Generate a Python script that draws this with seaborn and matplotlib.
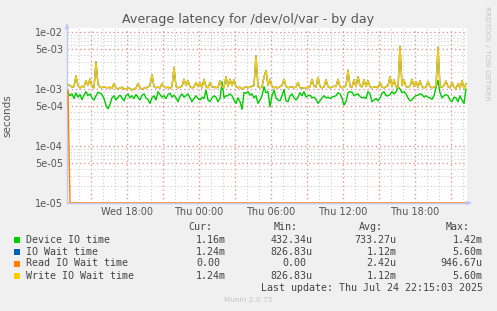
import numpy as np
import pandas as pd
import matplotlib
matplotlib.use("Agg")
import matplotlib.pyplot as plt
import matplotlib.dates as mdates
import matplotlib.ticker as mticker
from matplotlib.patches import Rectangle
import seaborn as sns

# ---------------- data (values in microseconds, 10-minute samples) ----------------
start_time = "2025-07-23 13:05"
n_points = 200

device_us = [
    880, 760, 820, 680, 850, 720, 800, 650, 780, 900,
    760, 820, 700, 640, 760, 880, 850, 800, 680, 520,
    450, 540, 700, 760, 640, 720, 780, 700, 620, 760,
    820, 700, 760, 680, 800, 720, 640, 780, 820, 700,
    650, 560, 700, 760, 640, 900, 800, 720, 760, 680,
    800, 840, 720, 780, 700, 600, 740, 820, 720, 760,
    820, 700, 600, 680, 760, 680, 640, 720, 680, 950,
    640, 600, 700, 760, 720, 600, 680, 1350, 700, 760,
    760, 820, 760, 640, 560, 700, 600, 440, 870, 840,
    900, 780, 820, 700, 760, 560, 640, 760, 1100, 860,
    900, 490, 760, 960, 700, 640, 620, 760, 980, 620,
    600, 760, 820, 700, 640, 720, 860, 760, 900, 720,
    760, 780, 700, 720, 660, 560, 620, 700, 760, 700,
    720, 680, 720, 740, 760, 860, 820, 700, 520, 600,
    860, 900, 880, 760, 800, 820, 740, 700, 720, 680,
    900, 820, 600, 640, 680, 620, 700, 840, 900, 760,
    760, 800, 900, 820, 880, 1100, 1000, 860, 900, 820,
    700, 620, 640, 720, 760, 780, 820, 800, 720, 760,
    720, 700, 660, 760, 1050, 1420, 860, 700, 760, 800,
    760, 640, 600, 720, 700, 600, 760, 640, 560, 1000,
]

write_us = [
    1200, 1150, 1080, 1100, 1700, 1150, 1050, 1120, 1080, 1400,
    1150, 1500, 1100, 1050, 3000, 1200, 1080, 1050, 1100, 1060,
    1050, 1080, 1020, 1250, 1050, 1000, 1040, 1080, 1000, 980,
    1050, 1020, 960, 1000, 1040, 1250, 1050, 1000, 1030, 1060,
    1080, 1150, 1780, 1100, 1050, 1080, 1040, 1250, 1100, 1050,
    1080, 1020, 1100, 2400, 1100, 1050, 1080, 1120, 1480, 1150,
    1400, 1100, 1050, 1080, 1300, 1100, 1300, 1050, 1480, 1100,
    1050, 1300, 1080, 1100, 1050, 1080, 1400, 1100, 1050, 1640,
    1100, 1480, 1150, 1450, 1100, 1050, 1080, 1000, 1050, 1100,
    1050, 1080, 1120, 1150, 3800, 1100, 1050, 1080, 1640, 2100,
    1150, 1480, 1100, 1050, 1080, 1040, 1100, 1150, 1480, 1100,
    1050, 1080, 1100, 1050, 1080, 1300, 1050, 1040, 1050, 1060,
    1050, 1100, 1480, 1120, 1080, 1600, 1100, 1050, 1080, 1450,
    1100, 1050, 1080, 1120, 1100, 1480, 1100, 1050, 1080, 1150,
    2150, 1100, 1080, 1450, 1100, 1640, 1150, 1080, 1450, 1100,
    1400, 1100, 1050, 1080, 1100, 1050, 1300, 1080, 1050, 1100,
    1150, 1640, 1100, 1450, 1100, 1050, 5600, 1150, 1450, 1100,
    1080, 1120, 1480, 1100, 1350, 1080, 1400, 1100, 1050, 1080,
    1350, 1100, 1050, 1080, 1100, 5400, 1100, 1080, 1150, 1380,
    1100, 1050, 1300, 1080, 1000, 1250, 1050, 1400, 1000, 1250,
]

# IO Wait time is identical to Write IO Wait time in this graph
iowait_us = list(write_us)
read_us = [946.67] + [0.0] * (n_points - 1)

series_names = ["Device IO time", "IO Wait time", "Read IO Wait time", "Write IO Wait time"]
series_colors = ["#00CC00", "#0066B3", "#FF8000", "#FFCC00"]

legend_cur = ["1.16m", "1.24m", "0.00", "1.24m"]
legend_min = ["432.34u", "826.83u", "0.00", "826.83u"]
legend_avg = ["733.27u", "1.12m", "2.42u", "1.12m"]
legend_max = ["1.42m", "5.60m", "946.67u", "5.60m"]

y_ticks = [1e-5, 5e-5, 1e-4, 5e-4, 1e-3, 5e-3, 1e-2]
y_min, y_max = 1e-5, 1.175e-2
x_start, x_end = "2025-07-23 13:00", "2025-07-24 22:20"

# ---------------- build frame ----------------
times = pd.date_range(start_time, periods=n_points, freq="10min")
frames = []
for name, vals in zip(series_names, [device_us, iowait_us, read_us, write_us]):
    v = np.asarray(vals, dtype=float) * 1e-6
    v = np.clip(v, y_min, None)  # rrdtool shows zero at the bottom of a log axis
    frames.append(pd.DataFrame({"time": times, "value": v, "series": name}))
df = pd.concat(frames, ignore_index=True)

# ---------------- figure ----------------
sns.set_style("white")
plt.rcParams["font.family"] = ["DejaVu Sans"]

W, H = 497, 311
fig = plt.figure(figsize=(W / 100, H / 100), dpi=100, facecolor="#F0F0F0")
ax = fig.add_axes([67 / W, (H - 203) / H, 400 / W, 175 / H])
ax.set_facecolor("white")

sns.lineplot(data=df, x="time", y="value", hue="series", hue_order=series_names,
             palette=series_colors, linewidth=1.0, legend=False, ax=ax,
             estimator=None, sort=False, zorder=3)

ax.set_yscale("log")
ax.set_ylim(y_min, y_max)
ax.set_xlim(pd.Timestamp(x_start), pd.Timestamp(x_end))

ax.yaxis.set_major_locator(mticker.FixedLocator(y_ticks))
ax.yaxis.set_major_formatter(mticker.FuncFormatter(lambda v, p: "%.0e" % v))
ax.yaxis.set_minor_locator(mticker.LogLocator(base=10, subs=[2, 3, 4, 6, 7, 8, 9], numticks=20))
ax.yaxis.set_minor_formatter(mticker.NullFormatter())

ax.xaxis.set_major_locator(mdates.HourLocator(byhour=range(0, 24, 3)))
ax.xaxis.set_minor_locator(mdates.HourLocator(interval=1))

def xfmt(v, p):
    d = mdates.num2date(v)
    return d.strftime("%a %H:%M") if d.hour % 6 == 0 else ""

ax.xaxis.set_major_formatter(mticker.FuncFormatter(xfmt))

ax.grid(which="major", color="#E59595", linestyle=(0, (1, 2)), linewidth=1.0)
ax.grid(which="minor", color="#CDCDCD", linestyle=(0, (1, 2)), linewidth=0.8)
ax.set_axisbelow(True)

ax.tick_params(axis="both", which="both", length=0, labelsize=7, colors="#555555", pad=3)
ax.set_xlabel("")
ax.set_ylabel("seconds", fontsize=7.5, color="#555555", labelpad=8)
ax.yaxis.set_label_coords(-55 / 400, 0.5)

for s in ["top", "right"]:
    ax.spines[s].set_visible(False)
ax.spines["left"].set_color("#C0C8F8")
ax.spines["bottom"].set_color("#C0C8F8")
ax.spines["left"].set_linewidth(1)
ax.spines["bottom"].set_linewidth(1)

# axis arrows
ax.annotate("", xy=(0, 1.04), xytext=(0, 1.0), xycoords="axes fraction",
            arrowprops=dict(arrowstyle="-|>", color="#C0C8F8", lw=1, mutation_scale=6),
            annotation_clip=False)
ax.annotate("", xy=(1.012, 0), xytext=(1.0, 0), xycoords="axes fraction",
            arrowprops=dict(arrowstyle="-|>", color="#C0C8F8", lw=1, mutation_scale=6),
            annotation_clip=False)

# title & side text
def fx(x):
    return x / W

def fy(y):
    return 1 - y / H

fig.text(fx(248), fy(19), "Average latency for /dev/ol/var - by day", ha="center", va="center",
         fontsize=9.1, color="#555555")
fig.text(fx(487), fy(53), "RRDTOOL / TOBI OETIKER", rotation=270, ha="center", va="center",
         fontsize=5.3, color="#C4C4C4")

# legend block
mono = "DejaVu Sans Mono"
fs = 7.2
tc = "#444444"
fig.text(fx(212.7), fy(227), "Cur:", ha="right", va="center", family=mono, fontsize=fs, color=tc)
fig.text(fx(298), fy(227), "Min:", ha="right", va="center", family=mono, fontsize=fs, color=tc)
fig.text(fx(383), fy(227), "Avg:", ha="right", va="center", family=mono, fontsize=fs, color=tc)
fig.text(fx(470), fy(227), "Max:", ha="right", va="center", family=mono, fontsize=fs, color=tc)

row_y = [239.7, 251.7, 263.5, 275.7]
char_w = 6.0
for i, name in enumerate(series_names):
    y = row_y[i]
    fig.patches.append(Rectangle((fx(14), fy(y + 3)), 6 / W, 6 / H, transform=fig.transFigure,
                                 facecolor=series_colors[i], edgecolor="none"))
    fig.text(fx(26), fy(y), name, ha="left", va="center", family=mono, fontsize=fs, color=tc)
    for col, right in ((legend_cur, 226), (legend_min, 312.3), (legend_avg, 396.7), (legend_max, 482.7)):
        s = col[i]
        r = right - (char_w if s[-1].isdigit() else 0)
        fig.text(fx(r), fy(y), s, ha="right", va="center", family=mono, fontsize=fs, color=tc)

fig.text(fx(482.7), fy(287.7), "Last update: Thu Jul 24 22:15:03 2025", ha="right", va="center",
         family=mono, fontsize=fs, color=tc)
fig.text(fx(248), fy(300), "Munin 2.0.75", ha="center", va="center", fontsize=5.3, color="#C4C4C4")

fig.savefig("out.png", dpi=100, facecolor=fig.get_facecolor())
